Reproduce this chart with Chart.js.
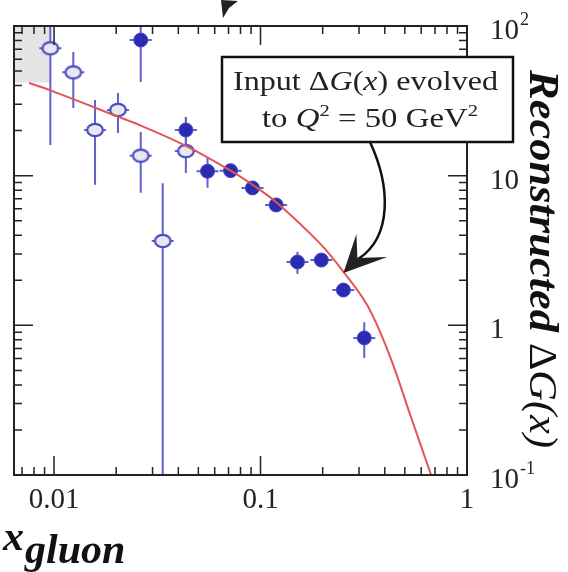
<!DOCTYPE html>
<html>
<head>
<meta charset="utf-8">
<script src="https://cdn.jsdelivr.net/npm/chart.js@4.4.1/dist/chart.umd.min.js"></script>
<style>
  body { margin: 0; background: #fff; }
  canvas { display: block; }
</style>
</head>
<body>
<canvas id="chart" width="568" height="572"></canvas>
<script>
// Pontos abertos (open circles)
const openX    = [0.0096, 0.0124, 0.0158, 0.0204, 0.0263, 0.0336, 0.0435];
const openY    = [71, 49, 20.2, 27.5, 13.6, 3.66, 14.6];
const openLow  = [16, 28.3, 8.7, 19.3, 7.7, 0.05, 10.4];
const openHigh = [140, 67, 32, 35.7, 19.6, 8.9, 24.7];

// Pontos cheios (filled circles)
const fullX    = [0.0263, 0.0435, 0.0554, 0.0716, 0.0914, 0.119, 0.151, 0.197, 0.252, 0.318];
const fullY    = [80.6, 20.2, 10.7, 10.8, 8.28, 6.37, 2.65, 2.73, 1.72, 0.824];
const fullLow  = [42.3, 16, 8.3, 10.0, 7.6, 6.0, 2.2, 2.5, 1.55, 0.605];
const fullHigh = [105, 24.7, 13.3, 11.7, 9.0, 6.8, 3.1, 3.0, 1.9, 1.05];

// Curva de entrada evoluída
const curveX = [0.00757, 0.00967, 0.0204, 0.0263, 0.0435, 0.0716, 0.0925, 0.1208, 0.195, 0.252, 0.329, 0.420, 0.536, 0.670];
const curveY = [41.6, 37.0, 24.8, 21.6, 15.8, 10.8, 8.6, 6.55, 3.5, 2.28, 1.36, 0.64, 0.243, 0.1];

// Região sombreada (canto superior esquerdo)
const shadeX = [0.0064, 0.0096];
const shadeTop = 100;
const shadeBottom = 42;

// Rótulos dos eixos
const xTickValues = [0.01, 0.1, 1];
const xTickText = ['0.01', '0.1', '1'];
const yTickValues = [100, 10, 1, 0.1];
const yTickText = ['10', '10', '1', '10'];
const yTickSup = ['2', '', '', '-1'];

const BLUE = '#2b2bb2';
const BAR = '#6060cc';
const SERIF = '"Liberation Serif", "DejaVu Serif", serif';

function toPoints(xs, ys) {
    return xs.map((x, i) => ({ x: x, y: ys[i] }));
}

// Marcador elíptico aberto
function makeOpenMarker() {
    const c = document.createElement('canvas');
    c.width = 20; c.height = 16;
    const g = c.getContext('2d');
    g.beginPath();
    g.ellipse(10, 8, 7.8, 6.2, 0, 0, Math.PI * 2);
    g.fillStyle = '#e8e8ef';
    g.fill();
    g.lineWidth = 2.2;
    g.strokeStyle = '#4b4bc6';
    g.stroke();
    return c;
}

function drawRich(ctx, segs, x, y, targetW) {
    let total = 0;
    segs.forEach(s => { ctx.font = s.font; total += ctx.measureText(s.t).width; });
    const sx = targetW ? targetW / total : 1;
    ctx.save();
    ctx.translate(x, y);
    ctx.scale(sx, 1);
    let cx = 0;
    segs.forEach(s => {
        ctx.font = s.font;
        ctx.fillText(s.t, cx, -(s.dy || 0));
        cx += ctx.measureText(s.t).width;
    });
    ctx.restore();
}

const errorBars = {
    id: 'errorBars',
    beforeDatasetDraw(chart, args) {
        const sets = { 1: [fullX, fullY, fullLow, fullHigh], 2: [openX, openY, openLow, openHigh] };
        const s = sets[args.index];
        if (!s) return;
        const ctx = chart.ctx, xs = chart.scales.x, ys = chart.scales.y, a = chart.chartArea;
        ctx.save();
        ctx.beginPath();
        ctx.rect(a.left, a.top, a.right - a.left, a.bottom - a.top);
        ctx.clip();
        ctx.strokeStyle = BAR;
        ctx.lineWidth = 2;
        s[0].forEach((x, i) => {
            const px = xs.getPixelForValue(x);
            const py = ys.getPixelForValue(s[1][i]);
            ctx.beginPath();
            ctx.moveTo(px, ys.getPixelForValue(s[2][i]));
            ctx.lineTo(px, ys.getPixelForValue(s[3][i]));
            ctx.moveTo(px - 11, py);
            ctx.lineTo(px + 11, py);
            ctx.stroke();
        });
        ctx.restore();
    }
};

const frameAndText = {
    id: 'frameAndText',
    afterDraw(chart) {
        const ctx = chart.ctx, xs = chart.scales.x, ys = chart.scales.y, a = chart.chartArea;
        ctx.save();
        ctx.strokeStyle = '#222';
        ctx.fillStyle = '#222';

        // moldura
        ctx.lineWidth = 2;
        ctx.strokeRect(a.left, a.top, a.right - a.left, a.bottom - a.top);

        // marcas internas
        ctx.lineWidth = 1.5;
        for (let e = -3; e <= 2; e++) {
            for (let m = 1; m <= 9; m++) {
                const v = m * Math.pow(10, e);
                const len = m === 1 ? 19 : 8;
                if (v >= xs.min * 0.999 && v <= xs.max * 1.001) {
                    const px = xs.getPixelForValue(v);
                    ctx.beginPath();
                    ctx.moveTo(px, a.bottom); ctx.lineTo(px, a.bottom - len);
                    ctx.moveTo(px, a.top); ctx.lineTo(px, a.top + len);
                    ctx.stroke();
                }
                if (v >= ys.min * 0.999 && v <= ys.max * 1.001) {
                    const py = ys.getPixelForValue(v);
                    ctx.beginPath();
                    ctx.moveTo(a.left, py); ctx.lineTo(a.left + len, py);
                    ctx.moveTo(a.right, py); ctx.lineTo(a.right - len, py);
                    ctx.stroke();
                }
            }
        }

        // rótulos do eixo x
        ctx.font = '29px ' + SERIF;
        ctx.textAlign = 'center';
        ctx.textBaseline = 'alphabetic';
        xTickValues.forEach((v, i) => {
            ctx.fillText(xTickText[i], xs.getPixelForValue(v), a.bottom + 33);
        });

        // rótulos do eixo y (à direita)
        ctx.textAlign = 'left';
        yTickValues.forEach((v, i) => {
            const py = ys.getPixelForValue(v) + 13;
            ctx.font = '29px ' + SERIF;
            ctx.fillText(yTickText[i], a.right + 23, py);
            const w = ctx.measureText(yTickText[i]).width;
            if (yTickSup[i]) {
                ctx.font = '18px ' + SERIF;
                ctx.fillText(yTickSup[i], a.right + 24 + w, py - 14);
            }
        });

        // título do eixo x
        ctx.fillStyle = '#111';
        ctx.font = 'italic bold 42px ' + SERIF;
        ctx.fillText('x', 3, 550);
        ctx.fillText('gluon', 25, 563);

        // título do eixo y
        ctx.save();
        ctx.translate(530, 70);
        ctx.rotate(Math.PI / 2);
        drawRich(ctx, [
            { t: 'Reconstructed ', font: 'italic bold 42px ' + SERIF },
            { t: '\u0394', font: '40px ' + SERIF },
            { t: 'G(x)', font: 'italic 40px ' + SERIF }
        ], 0, 0, 378);
        ctx.restore();

        // caixa de anotação
        ctx.fillStyle = '#fff';
        ctx.fillRect(222, 57, 291, 85);
        ctx.lineWidth = 2.5;
        ctx.strokeStyle = '#111';
        ctx.strokeRect(222, 57, 291, 85);
        ctx.fillStyle = '#222';
        const f = '27px ' + SERIF, fi = 'italic 27px ' + SERIF, fs = '17px ' + SERIF;
        drawRich(ctx, [
            { t: 'Input \u0394', font: f },
            { t: 'G', font: fi },
            { t: '(', font: f },
            { t: 'x', font: fi },
            { t: ') evolved', font: f }
        ], 233, 90, 265);
        drawRich(ctx, [
            { t: 'to ', font: f },
            { t: 'Q', font: fi },
            { t: '2', font: fs, dy: 11 },
            { t: ' = 50 GeV', font: f },
            { t: '2', font: fs, dy: 11 }
        ], 262, 127, 216);

        // seta curva apontando para a curva
        const tipX = xs.getPixelForValue(0.252);
        const tipY = ys.getPixelForValue(2.24);
        ctx.lineWidth = 2.5;
        ctx.beginPath();
        ctx.moveTo(370, 142);
        ctx.bezierCurveTo(390, 185, 393, 236, tipX + 15, tipY - 14);
        ctx.stroke();
        ctx.beginPath();
        ctx.moveTo(tipX, tipY);
        ctx.lineTo(tipX + 13, tipY - 39);
        ctx.lineTo(tipX + 14, tipY - 15);
        ctx.lineTo(tipX + 44, tipY - 16);
        ctx.closePath();
        ctx.fill();

        // seta no topo (cortada)
        ctx.beginPath();
        ctx.moveTo(221, 0);
        ctx.lineTo(238, 1);
        ctx.lineTo(229, 8);
        ctx.lineTo(223, 18);
        ctx.closePath();
        ctx.fill();
        ctx.restore();
    }
};

const chart = new Chart(document.getElementById('chart').getContext('2d'), {
    type: 'scatter',
    data: {
        datasets: [
            {
                type: 'line',
                data: toPoints(curveX, curveY),
                borderColor: '#e35555',
                borderWidth: 2,
                pointRadius: 0,
                tension: 0.35,
                fill: false
            },
            {
                data: toPoints(fullX, fullY),
                pointStyle: 'circle',
                pointRadius: 7,
                backgroundColor: BLUE,
                borderColor: '#4545c2',
                borderWidth: 1
            },
            {
                data: toPoints(openX, openY),
                pointStyle: makeOpenMarker(),
                pointRadius: 8
            },
            {
                type: 'line',
                data: toPoints(shadeX, [shadeTop, shadeTop]),
                borderWidth: 0,
                pointRadius: 0,
                backgroundColor: '#e4e4e4',
                fill: { value: shadeBottom }
            }
        ]
    },
    options: {
        responsive: false,
        animation: false,
        devicePixelRatio: 1,
        layout: { padding: { left: 14, right: 101, top: 26, bottom: 97 } },
        scales: {
            x: { type: 'logarithmic', min: 0.0064, max: 1, display: false },
            y: { type: 'logarithmic', min: 0.1, max: 100, position: 'right', display: false }
        },
        plugins: {
            legend: { display: false },
            tooltip: { enabled: false }
        }
    },
    plugins: [errorBars, frameAndText]
});
</script>
</body>
</html>
